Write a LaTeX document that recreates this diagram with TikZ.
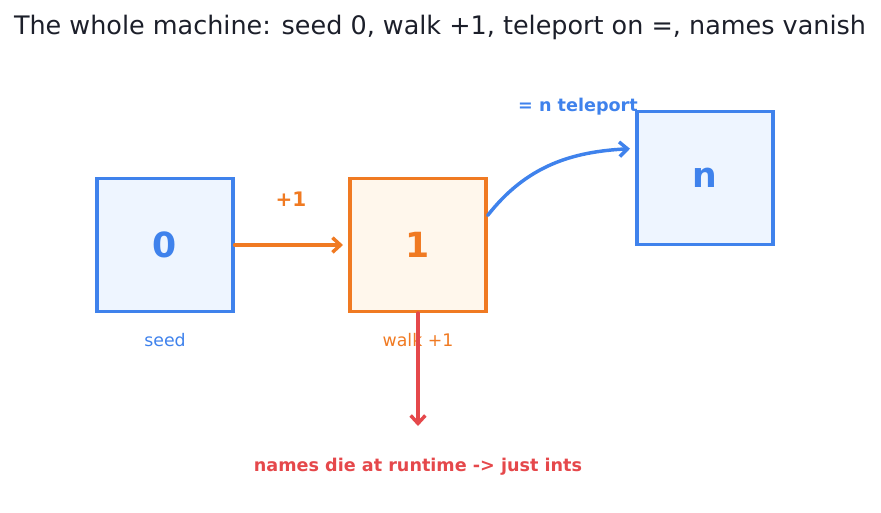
\documentclass[tikz,border=0pt]{standalone}
\usepackage{fontspec}
\setmainfont{DejaVu Sans}
\usetikzlibrary{arrows.meta}
\definecolor{seedblue}{HTML}{3F82EC}
\definecolor{seedfill}{HTML}{EEF5FF}
\definecolor{walkorange}{HTML}{F07A22}
\definecolor{walkfill}{HTML}{FFF7EC}
\definecolor{diered}{HTML}{E5484B}
\definecolor{titleink}{HTML}{1C1F2A}

\begin{document}
\begin{tikzpicture}[x=0.75pt, y=-0.75pt, >={Straight Barb[length=6pt,width=11pt]},
  box/.style={draw, line width=2.5pt, minimum width=102pt, minimum height=99.5pt, inner sep=0pt,
    font=\bfseries\fontsize{26}{30}\selectfont},
  bluebox/.style={box, draw=seedblue, fill=seedfill, text=seedblue},
  orangebox/.style={box, draw=walkorange, fill=walkfill, text=walkorange},
  lbl/.style={font=\fontsize{13}{16}\selectfont},
  tag/.style={font=\bfseries\fontsize{13.2}{16}\selectfont},
  arrow/.style={->, line width=2.6pt, line cap=round}]
\useasboundingbox (0,0) rectangle (881,512);
\node[titleink, font=\fontsize{19.1}{23}\selectfont] (title) at (440,27)
  {The whole machine: seed 0, walk +1, teleport on =, names vanish};
\node[bluebox] (seed) at (165,245) {0};
\node[orangebox] (walk) at (418,245) {1};
\node[bluebox] (tele) at (705,178) {n};
\node[lbl, text=seedblue] (seedlbl) at (165,340) {seed};
\node[lbl, text=walkorange] (walklbl) at (418,340) {walk +1};
\node[tag, text=walkorange, font=\bfseries\fontsize{15}{18}\selectfont] (plus) at (291,199) {+1};
\node[tag, text=seedblue] (telelbl) at (578,107) {= n teleport};
\node[tag, text=diered] (die) at (418,467) {names die at runtime -> just ints};
\coordinate (drop) at (418,426);
\draw[arrow, walkorange, shorten >=4pt] (seed) -- (walk);
\draw[arrow, seedblue, shorten >=4pt] (walk.23) to[out=52, in=183] (tele.157);
\draw[arrow, diered] (walk.south) -- (drop);
\end{tikzpicture}
\end{document}
